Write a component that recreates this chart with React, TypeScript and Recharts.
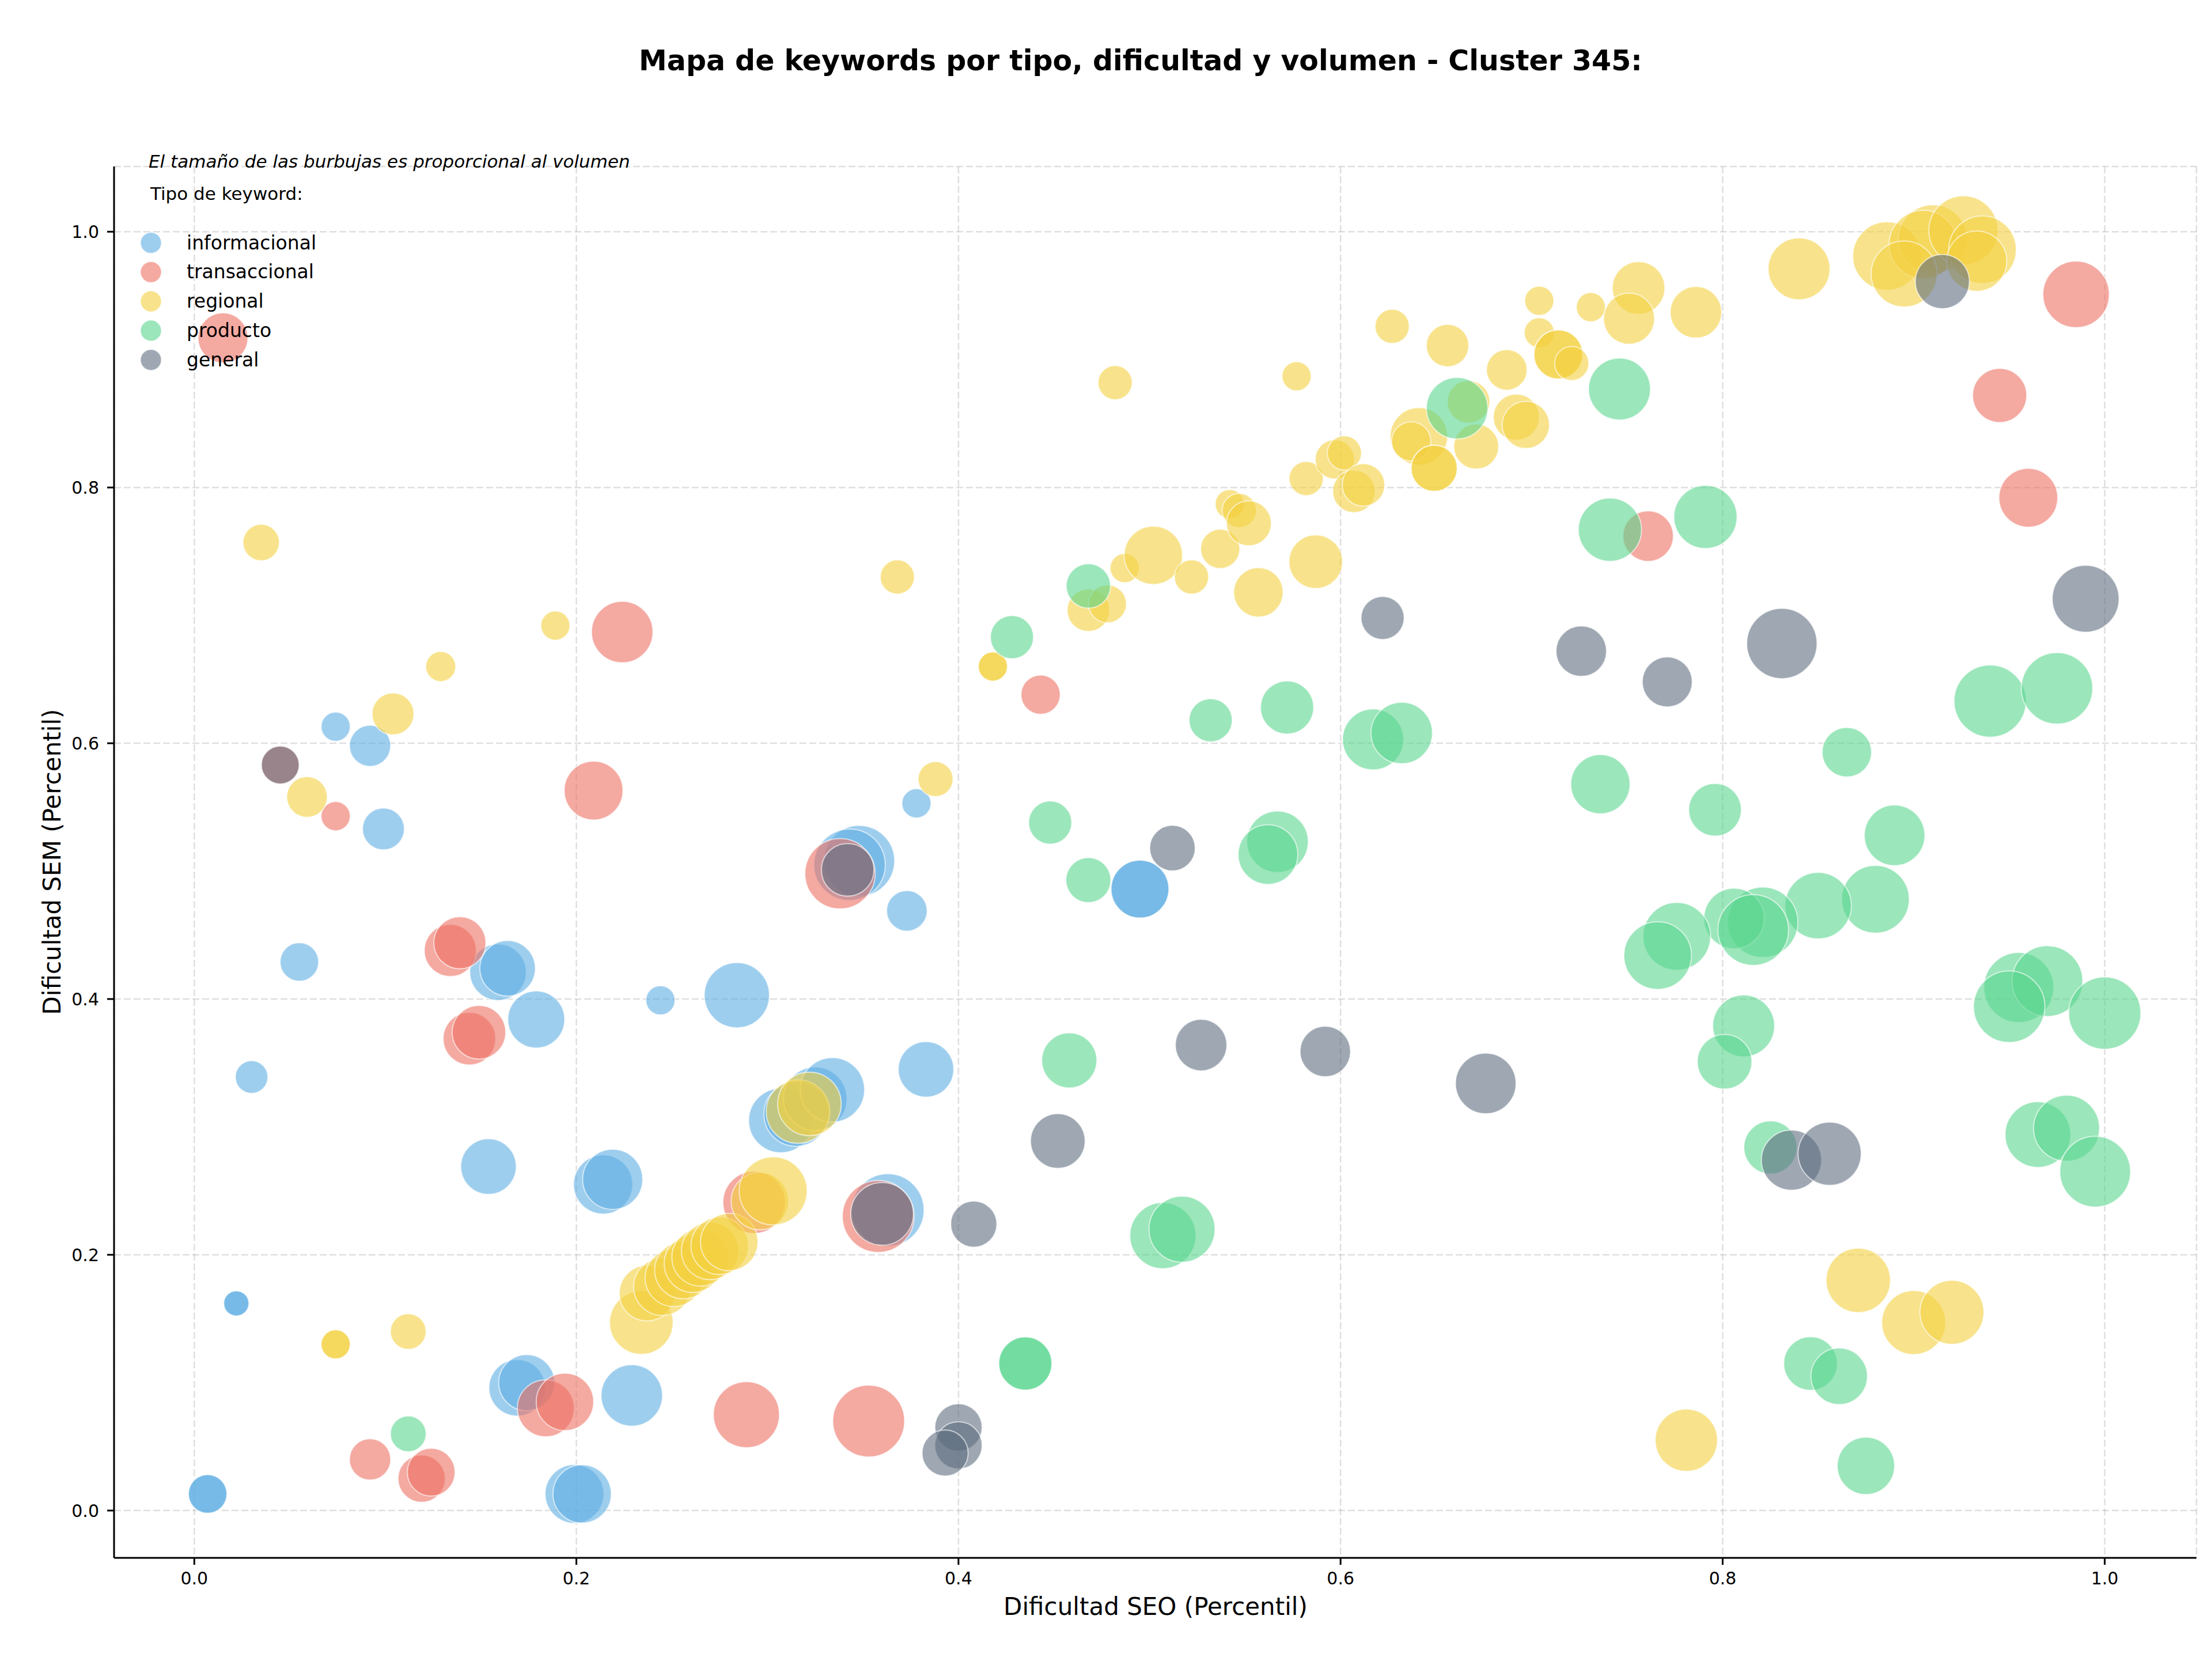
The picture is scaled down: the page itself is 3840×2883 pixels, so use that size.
import React from 'react'
import { ScatterChart, Scatter, XAxis, YAxis, ZAxis, CartesianGrid } from 'recharts'

// [dificultad SEO, dificultad SEM, volumen]
type Row = [number, number, number]

const informacional: Row[] = [
  [0.074, 0.613, 16], [0.092, 0.598, 32], [0.099, 0.533, 33], [0.055, 0.429, 28],
  [0.030, 0.339, 20], [0.022, 0.162, 12], [0.022, 0.162, 12], [0.007, 0.013, 28],
  [0.007, 0.013, 28], [0.159, 0.421, 60], [0.164, 0.424, 58], [0.179, 0.384, 61],
  [0.244, 0.399, 16], [0.284, 0.403, 80], [0.154, 0.269, 58], [0.214, 0.255, 66],
  [0.219, 0.259, 68], [0.169, 0.096, 60], [0.174, 0.100, 59], [0.229, 0.090, 71],
  [0.199, 0.013, 65], [0.203, 0.013, 64], [0.307, 0.305, 78], [0.315, 0.310, 78],
  [0.325, 0.322, 76], [0.334, 0.329, 78], [0.348, 0.508, 95], [0.343, 0.505, 96],
  [0.378, 0.553, 16], [0.373, 0.469, 31], [0.495, 0.486, 63], [0.495, 0.486, 63],
  [0.383, 0.345, 58], [0.363, 0.235, 99],
]

const transaccional: Row[] = [
  [0.015, 0.917, 47], [0.045, 0.583, 27], [0.074, 0.543, 16], [0.209, 0.563, 65],
  [0.224, 0.687, 71], [0.134, 0.438, 51], [0.139, 0.444, 51], [0.144, 0.369, 52],
  [0.149, 0.374, 54], [0.184, 0.080, 61], [0.194, 0.085, 62], [0.289, 0.075, 82],
  [0.092, 0.040, 32], [0.119, 0.025, 42], [0.124, 0.030, 43], [0.293, 0.241, 73],
  [0.338, 0.498, 93], [0.358, 0.230, 97], [0.353, 0.070, 97], [0.443, 0.638, 29],
  [0.761, 0.762, 48], [0.985, 0.951, 83], [0.945, 0.872, 55], [0.960, 0.792, 65],
]

const regional: Row[] = [
  [0.035, 0.757, 25], [0.129, 0.660, 17], [0.104, 0.623, 33], [0.189, 0.692, 16],
  [0.059, 0.558, 31], [0.074, 0.130, 16], [0.074, 0.130, 16], [0.112, 0.140, 24],
  [0.234, 0.147, 76], [0.237, 0.170, 58], [0.245, 0.175, 62], [0.251, 0.182, 62],
  [0.256, 0.188, 62], [0.261, 0.193, 62], [0.265, 0.198, 62], [0.270, 0.203, 62],
  [0.275, 0.207, 62], [0.280, 0.210, 62], [0.296, 0.242, 62], [0.303, 0.250, 87],
  [0.316, 0.312, 76], [0.322, 0.318, 76], [0.368, 0.730, 22], [0.388, 0.572, 23],
  [0.418, 0.660, 16], [0.418, 0.660, 16], [0.468, 0.704, 34], [0.478, 0.709, 27],
  [0.482, 0.882, 22], [0.487, 0.737, 16], [0.502, 0.747, 64], [0.522, 0.730, 22],
  [0.537, 0.752, 29], [0.542, 0.787, 16], [0.547, 0.782, 22], [0.552, 0.772, 38],
  [0.557, 0.718, 46], [0.577, 0.887, 16], [0.582, 0.807, 22], [0.587, 0.742, 54],
  [0.597, 0.822, 29], [0.602, 0.827, 22], [0.607, 0.797, 34], [0.612, 0.802, 34],
  [0.627, 0.926, 22], [0.656, 0.911, 34], [0.641, 0.840, 62], [0.637, 0.836, 29],
  [0.649, 0.815, 40], [0.649, 0.815, 40], [0.671, 0.832, 38], [0.667, 0.867, 34],
  [0.687, 0.892, 31], [0.692, 0.855, 40], [0.697, 0.849, 42], [0.704, 0.946, 16],
  [0.731, 0.941, 16], [0.756, 0.956, 52], [0.751, 0.932, 49], [0.786, 0.937, 50],
  [0.704, 0.921, 17], [0.714, 0.904, 45], [0.714, 0.904, 45], [0.721, 0.897, 22],
  [0.840, 0.971, 72], [0.886, 0.981, 88], [0.910, 0.994, 90], [0.905, 0.990, 88],
  [0.926, 1.001, 90], [0.936, 0.986, 86], [0.933, 0.977, 68], [0.895, 0.967, 82],
  [0.871, 0.180, 78], [0.900, 0.147, 77], [0.920, 0.155, 77], [0.781, 0.055, 73],
]

const producto: Row[] = [
  [0.112, 0.060, 24], [0.428, 0.683, 35], [0.468, 0.723, 37], [0.448, 0.538, 35],
  [0.468, 0.493, 38], [0.532, 0.618, 35], [0.572, 0.628, 53], [0.617, 0.603, 70],
  [0.632, 0.608, 71], [0.567, 0.523, 71], [0.562, 0.513, 67], [0.458, 0.352, 57],
  [0.507, 0.215, 82], [0.517, 0.220, 82], [0.435, 0.115, 53], [0.435, 0.115, 53],
  [0.661, 0.862, 71], [0.746, 0.877, 72], [0.741, 0.767, 75], [0.791, 0.777, 75],
  [0.940, 0.633, 98], [0.975, 0.643, 96], [0.865, 0.593, 46], [0.736, 0.568, 66],
  [0.796, 0.548, 52], [0.890, 0.528, 69], [0.880, 0.478, 86], [0.850, 0.473, 83],
  [0.821, 0.460, 93], [0.806, 0.463, 69], [0.816, 0.454, 94], [0.776, 0.449, 86],
  [0.766, 0.434, 86], [0.811, 0.379, 72], [0.801, 0.351, 56], [0.955, 0.409, 92],
  [0.970, 0.414, 94], [0.950, 0.394, 96], [1.000, 0.389, 98], [0.825, 0.284, 53],
  [0.965, 0.294, 81], [0.980, 0.299, 82], [0.995, 0.265, 94], [0.846, 0.115, 54],
  [0.861, 0.105, 60], [0.875, 0.035, 62],
]

const general: Row[] = [
  [0.045, 0.583, 27], [0.342, 0.501, 52], [0.360, 0.232, 74], [0.408, 0.224, 40],
  [0.452, 0.289, 56], [0.400, 0.065, 42], [0.400, 0.051, 42], [0.393, 0.045, 40],
  [0.512, 0.518, 39], [0.527, 0.364, 50], [0.592, 0.359, 48], [0.622, 0.698, 35],
  [0.676, 0.334, 69], [0.726, 0.672, 48], [0.771, 0.648, 47], [0.831, 0.678, 93],
  [0.990, 0.713, 84], [0.915, 0.961, 55], [0.836, 0.274, 68], [0.856, 0.279, 75],
]

const TYPES = ['informacional', 'transaccional', 'regional', 'producto', 'general']
const COLORS = ['#5DADE2', '#EC7063', '#F4D03F', '#58D68D', '#5D6D7E']
const SERIES = [informacional, transaccional, regional, producto, general]
const X_TICKS = [0, 0.2, 0.4, 0.6, 0.8, 1.0]
const Y_TICKS = [0, 0.2, 0.4, 0.6, 0.8, 1.0]

const W = 3840
const H = 2883
const FONT = '"DejaVu Sans", sans-serif'

// bubble area (px^2) = 40 * PI * volumen
const AREA_PER_VOL = 40 * Math.PI

// eslint-disable-next-line @typescript-eslint/no-explicit-any
const bubble = (color: string) => (p: any) => (
  <circle
    cx={p.cx}
    cy={p.cy}
    r={Math.sqrt(Math.max(p.size, 0) / Math.PI)}
    fill={color}
    fillOpacity={0.6}
    stroke="#fff"
    strokeOpacity={0.6}
    strokeWidth={2}
  />
)

export default function App() {
  const tickStyle = { fontSize: 30, fill: '#000', fontFamily: FONT }

  return (
    <div style={{ position: 'absolute', left: 0, top: 0, width: W, height: H, background: '#fff' }}>
      <ScatterChart width={W} height={H} margin={{ top: 289, right: 27, bottom: 0, left: 0 }}>
        <CartesianGrid stroke="#b0b0b0" strokeOpacity={0.4} strokeWidth={2.5} strokeDasharray="12 5" />
        <XAxis
          type="number"
          dataKey="seo"
          domain={[-0.042, 1.048]}
          ticks={X_TICKS}
          allowDataOverflow
          height={179}
          tickFormatter={(v: number) => v.toFixed(1)}
          tick={tickStyle}
          tickSize={12}
          tickMargin={13}
          axisLine={{ stroke: '#000', strokeWidth: 3 }}
          tickLine={{ stroke: '#000', strokeWidth: 3 }}
        />
        <YAxis
          type="number"
          dataKey="sem"
          domain={[-0.037, 1.051]}
          ticks={Y_TICKS}
          allowDataOverflow
          width={198}
          tickFormatter={(v: number) => v.toFixed(1)}
          tick={tickStyle}
          tickSize={12}
          tickMargin={14}
          axisLine={{ stroke: '#000', strokeWidth: 3 }}
          tickLine={{ stroke: '#000', strokeWidth: 3 }}
        />
        <ZAxis type="number" dataKey="vol" domain={[0, 100]} range={[0, 100 * AREA_PER_VOL]} />
        {SERIES.map((rows, i) => (
          <Scatter
            key={TYPES[i]}
            name={TYPES[i]}
            data={rows.map(([seo, sem, vol]) => ({ seo, sem, vol }))}
            fill={COLORS[i]}
            shape={bubble(COLORS[i])}
            isAnimationActive={false}
          />
        ))}
      </ScatterChart>

      <svg
        width={W}
        height={H}
        style={{ position: 'absolute', left: 0, top: 0, pointerEvents: 'none' }}
        fontFamily={FONT}
      >
        <text x={1980} y={122} textAnchor="middle" fontSize={49} fontWeight="bold" fill="#000">
          Mapa de keywords por tipo, dificultad y volumen - Cluster 345:
        </text>
        <text x={2006} y={2803} textAnchor="middle" fontSize={42} fill="#000">
          Dificultad SEO (Percentil)
        </text>
        <text
          x={0}
          y={0}
          transform="translate(105,1496) rotate(-90)"
          textAnchor="middle"
          fontSize={42}
          fill="#000"
        >
          Dificultad SEM (Percentil)
        </text>

        <text x={258} y={291} fontSize={31} fontStyle="italic" fill="#000">
          El tamaño de las burbujas es proporcional al volumen
        </text>
        <text x={261} y={347} fontSize={31} fill="#000">
          Tipo de keyword:
        </text>
        {TYPES.map((t, i) => {
          const cy = 421.5 + i * 50.8
          return (
            <g key={t}>
              <circle cx={262} cy={cy} r={18.3} fill={COLORS[i]} fillOpacity={0.6} stroke="#fff" strokeOpacity={0.6} strokeWidth={2} />
              <text x={324} y={cy + 11} fontSize={33} fill="#000">
                {t}
              </text>
            </g>
          )
        })}
      </svg>
    </div>
  )
}
